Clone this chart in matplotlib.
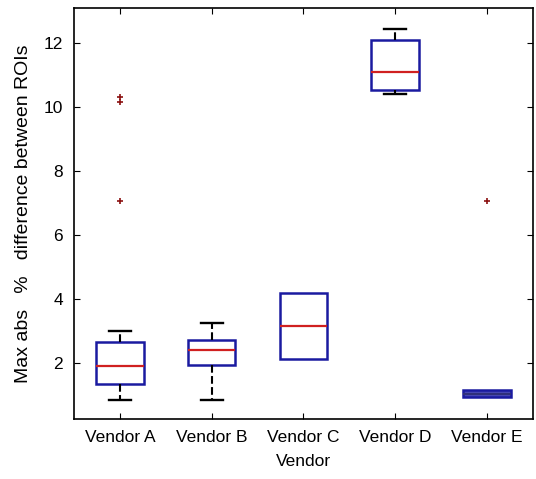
import matplotlib
matplotlib.use("Agg")
import matplotlib.pyplot as plt

plt.rcParams['font.family'] = ['Liberation Sans', 'DejaVu Sans']

vendors = ['Vendor A', 'Vendor B', 'Vendor C', 'Vendor D', 'Vendor E']
whislo = [0.84, 0.86, 2.12, 10.42, 0.95]
q1 = [1.34, 1.94, 2.12, 10.55, 0.95]
med = [1.91, 2.41, 3.16, 11.10, 1.05]
q3 = [2.66, 2.72, 4.18, 12.10, 1.16]
whishi = [3.00, 3.24, 4.18, 12.45, 1.16]
outliers = [[7.06, 10.17, 10.32], [], [], [], [7.06]]


def main():
    fig = plt.figure(figsize=(5.36, 4.79), dpi=100)
    ax = fig.add_axes([0.138, 0.125, 0.856, 0.858])
    stats = []
    for i, name in enumerate(vendors):
        stats.append({'label': name, 'whislo': whislo[i], 'q1': q1[i], 'med': med[i],
                      'q3': q3[i], 'whishi': whishi[i], 'fliers': outliers[i]})
    bp = ax.bxp(stats, positions=range(1, 6), widths=0.52, showfliers=True, patch_artist=True,
                boxprops=dict(edgecolor='#1a1aa0', facecolor='white', linewidth=1.8),
                medianprops=dict(color='#d02020', linewidth=1.6),
                whiskerprops=dict(color='black', linewidth=1.5, linestyle='--'),
                capprops=dict(color='black', linewidth=1.7),
                flierprops=dict(marker='+', markersize=4, markeredgecolor='#8b1010', markeredgewidth=1.2),
                capwidths=0.24)
    # box C has no whisker span, box E is collapsed (filled)
    for k in (2, 4):
        bp['caps'][2 * k].set_visible(False)
        bp['caps'][2 * k + 1].set_visible(False)
    bp['boxes'][4].set_facecolor('#4a4ab8')
    bp['medians'][4].set_color('#30307a')
    ax.set_xlim(0.5, 5.5)
    ax.set_ylim(0.25, 13.1)
    ax.set_yticks([2, 4, 6, 8, 10, 12])
    ax.set_xticks(range(1, 6))
    ax.set_xticklabels(vendors)
    ax.tick_params(direction='in', top=True, right=True, labelsize=12.5, length=4)
    ax.tick_params(axis='y', pad=8)
    ax.tick_params(axis='x', pad=8)
    ax.set_xlabel('Vendor', fontsize=12.5, labelpad=6)
    ax.set_ylabel('Max abs   %   difference between ROIs', fontsize=14, labelpad=8)
    for s in ax.spines.values():
        s.set_linewidth(1.2)
    fig.savefig('out.png', dpi=100)


if __name__ == '__main__':
    main()
